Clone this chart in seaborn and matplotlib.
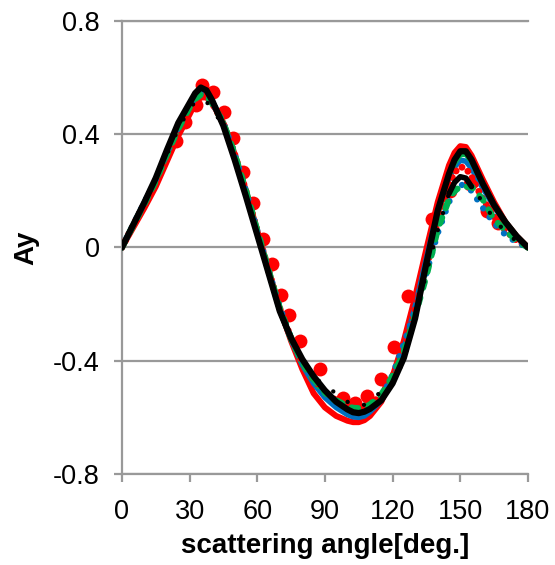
import numpy as np
import pandas as pd
import matplotlib
matplotlib.use("Agg")
import matplotlib.pyplot as plt
import seaborn as sns

# ---------------- data ----------------
angle = [0, 5, 10, 15, 20, 25, 30, 32.5, 35, 37.5, 40, 45, 50, 55, 60, 65, 70, 75, 80,
         85, 90, 95, 100, 102.5, 105, 107.5, 110, 115, 120, 125, 130, 135, 140, 145,
         147.5, 150, 152.5, 155, 160, 165, 170, 175, 180]

red_solid = [0, 0.07, 0.14, 0.215, 0.305, 0.395, 0.47, 0.51, 0.53, 0.53, 0.51, 0.44, 0.33,
             0.2, 0.06, -0.08, -0.215, -0.33, -0.43, -0.515, -0.565, -0.595, -0.612, -0.617,
             -0.617, -0.61, -0.595, -0.545, -0.455, -0.33, -0.175, -0.005, 0.16, 0.29,
             0.335, 0.358, 0.355, 0.325, 0.24, 0.16, 0.09, 0.04, 0]
blue_solid = [0, 0.08, 0.16, 0.24, 0.335, 0.425, 0.5, 0.535, 0.55, 0.545, 0.515, 0.435, 0.32,
              0.19, 0.05, -0.085, -0.22, -0.325, -0.415, -0.48, -0.53, -0.565, -0.59, -0.598,
              -0.6, -0.595, -0.58, -0.54, -0.47, -0.36, -0.21, -0.04, 0.13, 0.245,
              0.285, 0.308, 0.305, 0.28, 0.21, 0.145, 0.085, 0.037, 0]
green_solid = [0, 0.078, 0.155, 0.235, 0.33, 0.42, 0.495, 0.525, 0.54, 0.54, 0.515, 0.44, 0.325,
               0.195, 0.055, -0.085, -0.22, -0.325, -0.41, -0.47, -0.515, -0.545, -0.565, -0.572,
               -0.573, -0.57, -0.56, -0.53, -0.47, -0.38, -0.24, -0.06, 0.12, 0.255,
               0.3, 0.328, 0.33, 0.305, 0.225, 0.15, 0.09, 0.04, 0]
black_solid = [0, 0.08, 0.16, 0.245, 0.345, 0.44, 0.51, 0.545, 0.565, 0.555, 0.52, 0.43, 0.31,
               0.18, 0.045, -0.09, -0.225, -0.32, -0.395, -0.455, -0.505, -0.545, -0.572, -0.582,
               -0.585, -0.58, -0.57, -0.54, -0.48, -0.39, -0.25, -0.055, 0.13, 0.26,
               0.31, 0.34, 0.34, 0.31, 0.225, 0.15, 0.09, 0.04, 0]

red_dotted = [0, 0.078, 0.155, 0.235, 0.33, 0.42, 0.495, 0.525, 0.54, 0.535, 0.51, 0.44, 0.33,
              0.2, 0.06, -0.08, -0.215, -0.32, -0.405, -0.465, -0.51, -0.54, -0.56, -0.567,
              -0.568, -0.565, -0.555, -0.52, -0.455, -0.36, -0.22, -0.07, 0.09, 0.22,
              0.265, 0.285, 0.28, 0.25, 0.17, 0.11, 0.06, 0.025, 0]
blue_dotted = [0, 0.08, 0.16, 0.24, 0.335, 0.425, 0.5, 0.53, 0.545, 0.54, 0.515, 0.44, 0.33,
               0.2, 0.06, -0.08, -0.21, -0.32, -0.41, -0.475, -0.52, -0.555, -0.58, -0.59,
               -0.59, -0.585, -0.565, -0.53, -0.45, -0.34, -0.22, -0.09, 0.05, 0.16,
               0.2, 0.222, 0.218, 0.2, 0.14, 0.085, 0.045, 0.018, 0]
green_dotted = [0, 0.078, 0.155, 0.235, 0.33, 0.42, 0.495, 0.525, 0.54, 0.535, 0.51, 0.44, 0.33,
                0.2, 0.06, -0.08, -0.215, -0.32, -0.405, -0.465, -0.51, -0.54, -0.56, -0.567,
                -0.568, -0.565, -0.555, -0.52, -0.455, -0.37, -0.24, -0.1, 0.065, 0.17,
                0.2, 0.215, 0.215, 0.215, 0.17, 0.1, 0.06, 0.025, 0]
black_dotted = [0, 0.08, 0.16, 0.24, 0.33, 0.42, 0.49, 0.515, 0.525, 0.515, 0.49, 0.43, 0.32,
                0.19, 0.05, -0.085, -0.215, -0.32, -0.4, -0.455, -0.49, -0.515, -0.545, -0.557,
                -0.562, -0.555, -0.54, -0.51, -0.475, -0.4, -0.25, -0.09, 0.06, 0.19,
                0.23, 0.25, 0.245, 0.215, 0.16, 0.1, 0.055, 0.022, 0]

# experimental points (large red dots)
exp_angle = [24, 28, 33, 35.4, 40.5, 45.3, 49.4, 53.8, 58.2, 62.4, 66.4, 70.4, 74.2,
             78.9, 87.8, 97.9, 103.3, 108.8, 114.7, 120.6, 127, 137.4, 145.5, 154.4,
             161.7, 166.8]
exp_ay = [0.375, 0.445, 0.505, 0.575, 0.548, 0.48, 0.386, 0.268, 0.157, 0.03, -0.059,
          -0.169, -0.238, -0.329, -0.43, -0.532, -0.55, -0.526, -0.463, -0.352, -0.173,
          0.10, 0.2, 0.226, 0.128, 0.085]

x_ticks = [0, 30, 60, 90, 120, 150, 180]
y_ticks = [-0.8, -0.4, 0, 0.4, 0.8]
y_tick_labels = ["-0.8", "-0.4", "0", "0.4", "0.8"]

# ---------------- styling ----------------
sns.set_style("white")
plt.rcParams["font.family"] = ["Liberation Sans", "DejaVu Sans"]

RED, BLUE, GREEN, BLACK = "#FF0000", "#0070C0", "#00B050", "#000000"
GRID = "#999999"

fig = plt.figure(figsize=(5.55, 5.65), dpi=100)
ax = fig.add_axes([0.2196, 0.1611, 0.9512 - 0.2196, 0.9628 - 0.1611])

def draw(y, color, lw, style="solid", gap=1.4, z=2, mask=None):
    df = pd.DataFrame({"angle": angle, "Ay": y})
    if mask is not None:
        df = df[(df["angle"] >= mask[0]) & (df["angle"] <= mask[1])]
    n_before = len(ax.lines)
    sns.lineplot(data=df, x="angle", y="Ay", color=color, lw=lw, ax=ax,
                 sort=False, estimator=None, zorder=z)
    line = ax.lines[n_before]
    if style == "dot":
        line.set_linestyle((0, (0.001, gap)))
        line.set_dash_capstyle("round")
        line.set_dash_joinstyle("round")
    elif style == "dash":
        line.set_linestyle((0, (1.0, gap)))
        line.set_dash_capstyle("round")
        line.set_dash_joinstyle("round")
    else:
        line.set_linestyle("-")
        line.set_solid_capstyle("round")
        line.set_solid_joinstyle("round")

draw(red_solid, RED, 4.3, z=3)
draw(blue_solid, BLUE, 4.0, z=3.1)
draw(green_solid, GREEN, 4.0, z=3.2)

sns.scatterplot(x=exp_angle, y=exp_ay, color=RED, s=100, linewidth=0, ax=ax, zorder=3.25)

draw(red_dotted, RED, 5.0, style="dot", gap=1.1, z=3.3)
draw(blue_dotted, BLUE, 4.6, style="dot", gap=1.7, z=3.4)
draw(green_dotted, GREEN, 4.6, style="dash", gap=1.6, z=3.5)
draw(black_dotted, BLACK, 3.2, style="dot", gap=4.0, z=3.6)
draw(black_dotted, BLACK, 4.0, z=3.65, mask=(144, 158))
draw(black_solid, BLACK, 4.5, z=3.8)

ax.set_xlim(0, 180)
ax.set_ylim(-0.8, 0.8)
ax.set_xticks(x_ticks)
ax.set_xticklabels([str(t) for t in x_ticks])
ax.set_yticks(y_ticks)
ax.set_yticklabels(y_tick_labels)

ax.grid(False)
ax.yaxis.grid(True, color=GRID, lw=1.6)
ax.set_axisbelow(True)
for side in ["top", "bottom", "left"]:
    ax.spines[side].set_visible(True)
    ax.spines[side].set_color(GRID)
    ax.spines[side].set_linewidth(1.6)
ax.spines["right"].set_visible(False)

ax.tick_params(axis="x", bottom=True, direction="out", length=6, width=1.6,
               color=GRID, labelsize=19.5, pad=12, labelcolor="black")
ax.tick_params(axis="y", left=True, direction="out", length=6, width=1.6,
               color=GRID, labelsize=19.5, pad=10, labelcolor="black")

ax.set_xlabel("scattering angle[deg.]", fontsize=20, fontweight="bold",
              color="black", labelpad=6)
ax.set_ylabel("Ay", fontsize=20, fontweight="bold", color="black", labelpad=10)

fig.savefig("out.png", dpi=100)
